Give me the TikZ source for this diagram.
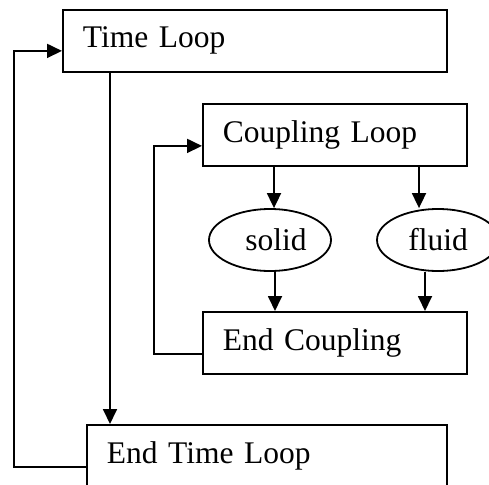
\documentclass[tikz,border=0pt]{standalone}
\usepackage{fontspec}
\setmainfont{Liberation Serif}
\usetikzlibrary{arrows.meta,shapes.geometric}
\begin{document}
\begin{tikzpicture}[x=1pt,y=-1pt,
  line width=1.8pt,
  every node/.style={font=\fontsize{31.5}{36}\selectfont},
  stepbox/.style={draw,rectangle,anchor=north west,inner xsep=20pt,inner ysep=0pt,
    align=left,minimum height=62pt},
  phase/.style={draw,ellipse,minimum width=122pt,minimum height=62pt,inner sep=0pt},
  arr/.style={-{Triangle[length=15pt,width=14pt]}}]
\useasboundingbox (0,0) rectangle (489,484);
\clip (0,0) rectangle (489,484);
% loop boxes
\node[stepbox,text width=344pt] (tl) at (62,9) {Time Loop};
\node[stepbox,text width=224pt] (cl) at (202,103) {Coupling Loop};
\node[stepbox,text width=224pt] (ec) at (202,311) {End Coupling};
\node[stepbox,text width=320pt] (etl) at (86,424) {End Time Loop};
% solver phases
\node[phase] (solid) at (270,240) {\hspace*{12pt}solid};
\node[phase] (fluid) at (438,240) {fluid};
% time loop
\draw[arr] ([xshift=48pt]tl.south west) -- ([xshift=24pt]etl.north west);
\draw[arr] ([yshift=-11pt]etl.west) -- ++(-72pt,0) |- ([yshift=-10pt]tl.west);
% coupling loop
\draw[arr] ([xshift=72pt]cl.south west) -- ([xshift=72pt]cl.south west |- solid.north);
\draw[arr] ([xshift=217pt]cl.south west) -- ([xshift=217pt]cl.south west |- fluid.north);
\draw[arr] ([xshift=73pt]ec.north west |- solid.south) -- ([xshift=73pt]ec.north west);
\draw[arr] ([xshift=223pt]ec.north west |- fluid.south) -- ([xshift=223pt]ec.north west);
\draw[arr] ([yshift=-11pt]ec.west) -- ++(-48pt,0) |- ([yshift=-11pt]cl.west);
\end{tikzpicture}
\end{document}
